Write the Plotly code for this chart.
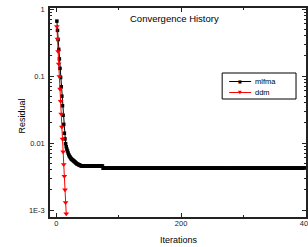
import plotly.graph_objects as go

# ---- data ----
mlfma_head = [0.66, 0.48, 0.35, 0.25, 0.18, 0.13, 0.095, 0.069, 0.050, 0.036,
              0.026, 0.019, 0.014, 0.0115, 0.0098, 0.0088, 0.0081, 0.0076, 0.0071, 0.0067,
              0.0064, 0.0062, 0.0060, 0.0058, 0.0057, 0.0056, 0.0055, 0.0054, 0.0053, 0.0052,
              0.0051, 0.0050, 0.0049, 0.00485, 0.0048, 0.00475, 0.0047, 0.00465, 0.0046, 0.00458,
              0.00455]
mlfma_plateau_levels = [0.00453, 0.00420]
mlfma_plateau_counts = [33, 326]

ddm_values = [0.55, 0.357, 0.232, 0.151, 0.098, 0.064, 0.042, 0.027, 0.0174, 0.0115,
              0.0074, 0.0048, 0.0032, 0.0020, 0.0013, 0.00088]

series_names = ["mlfma", "ddm"]
series_colors = ["black", "red"]

x_tick_vals = [0, 200, 400]
x_tick_text = ["0", "200", "400"]
y_tick_vals = [1, 0.1, 0.01, 0.001]
y_tick_text = ["1", "0.1", "0.01", "1E-3"]

mlfma_values = list(mlfma_head)
for lvl, cnt in zip(mlfma_plateau_levels, mlfma_plateau_counts):
    mlfma_values += [lvl] * cnt
mlfma_iters = list(range(1, len(mlfma_values) + 1))
ddm_iters = list(range(1, len(ddm_values) + 1))

W, H = 308, 247
L, R, T, B = 49.5, 2, 8, 30
FONT = "Liberation Sans, Arial"

fig = go.Figure()
fig.add_trace(go.Scatter(x=mlfma_iters, y=mlfma_values, mode="lines+markers", name=series_names[0],
                         line=dict(color=series_colors[0], width=1),
                         marker=dict(symbol="square", size=3.5, color=series_colors[0])))
fig.add_trace(go.Scatter(x=ddm_iters, y=ddm_values, mode="lines+markers", name=series_names[1],
                         line=dict(color=series_colors[1], width=1),
                         marker=dict(symbol="triangle-down", size=5, color=series_colors[1])))

minor_y = [m * 10 ** e for e in (-3, -2, -1) for m in range(2, 10)]
axis_common = dict(showline=True, linecolor="#222", linewidth=1.5, mirror="ticks",
                   ticks="inside", ticklen=4, tickwidth=1, tickcolor="#222",
                   showgrid=False, zeroline=False, automargin=False, ticklabeloverflow="allow",
                   tickfont=dict(family=FONT, size=7.5, color="#222"))
fig.update_xaxes(range=[-10, 400], tickvals=x_tick_vals, ticktext=x_tick_text,
                 minor=dict(tickvals=[100, 300], ticks="inside", ticklen=2, tickcolor="#222"),
                 ticklabelstandoff=-2, **axis_common)
fig.update_yaxes(type="log", range=[-3.104, 0.015], tickvals=y_tick_vals, ticktext=y_tick_text,
                 minor=dict(tickvals=minor_y, ticks="inside", ticklen=2, tickcolor="#222"),
                 ticklabelstandoff=2, **axis_common)

pw = W - L - R
ph = H - T - B
def px(xp):
    return (xp - L) / pw
def py(yp):
    return (H - B - yp) / ph

ann = dict(xref="paper", yref="paper", showarrow=False, xanchor="center", yanchor="middle")
fig.add_annotation(text="Convergence History", x=px(174), y=py(18.5),
                   font=dict(family=FONT, size=9.5, color="black"), **ann)
fig.add_annotation(text="Iterations", x=px(178.5), y=py(240),
                   font=dict(family=FONT, size=9, color="black"), **ann)
fig.add_annotation(text="Residual", x=px(21), y=py(116), textangle=-90,
                   font=dict(family=FONT, size=9, color="black"), **ann)

# compact legend (box, line samples, symbols, labels)
fig.add_shape(type="rect", xref="paper", yref="paper", x0=px(222), x1=px(296), y0=py(99), y1=py(73),
              line=dict(color="black", width=1), fillcolor="white", layer="above")
leg_rows = [81.5, 92.5]
leg_glyphs = ["■", "▼"]
leg_glyph_sizes = [4, 5]
for name, col, yy, g, gs in zip(series_names, series_colors, leg_rows, leg_glyphs, leg_glyph_sizes):
    fig.add_shape(type="line", xref="paper", yref="paper", x0=px(229), x1=px(251), y0=py(yy), y1=py(yy),
                  line=dict(color=col, width=1), layer="above")
    fig.add_annotation(text=g, x=px(240), y=py(yy),
                       font=dict(family="DejaVu Sans", size=gs, color=col), **ann)
    fig.add_annotation(text=name, x=px(253), y=py(yy), xref="paper", yref="paper", showarrow=False,
                       xanchor="left", yanchor="middle",
                       font=dict(family=FONT, size=7.5, color="black"))

fig.update_layout(width=W, height=H, margin=dict(l=L, r=R, t=T, b=B, pad=0),
                  paper_bgcolor="white", plot_bgcolor="white", showlegend=False)
fig.write_html("out.html", config={"displayModeBar": False},
               post_script="document.body.style.margin='0';document.body.style.overflow='hidden';")
